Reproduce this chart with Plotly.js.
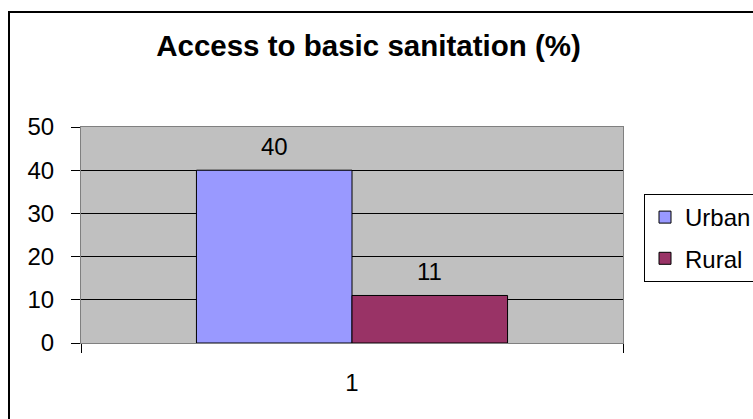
<!DOCTYPE html>
<html>
<head>
<meta charset="utf-8">
<script src="https://cdn.plot.ly/plotly-3.0.1.min.js"></script>
<style>
  html, body { margin: 0; padding: 0; background: #fff; }
  #wrap { position: relative; width: 753px; height: 419px; overflow: hidden; }
  #chart { position: absolute; left: 0; top: 0; width: 753px; height: 419px; }
  #frame { position: absolute; left: 8px; top: 11px; width: 800px; height: 500px;
           border-top: 2px solid #000; border-left: 2px solid #000; pointer-events: none; }
</style>
</head>
<body>
<div id="wrap">
  <div id="chart"></div>
  <div id="frame"></div>
</div>
<script>
const categories = ['1'];
const seriesNames = ['Urban', 'Rural'];
const urbanValues = [40];
const ruralValues = [11];
const seriesColors = ['#9999FF', '#993366'];
const yTickValues = [0, 10, 20, 30, 40, 50];

const bargap = 0.426;
const allValues = [urbanValues, ruralValues];
const FONT = 'Arial, "Liberation Sans", sans-serif';
const FS = 24;

const traces = allValues.map((vals, i) => ({
  type: 'bar',
  name: seriesNames[i],
  x: categories,
  y: vals,
  legendgroup: 'g' + i,
  marker: { color: seriesColors[i], line: { color: '#000', width: 1 } },
  hoverinfo: 'skip'
}));

// data labels above each bar
const nSeries = allValues.length;
const barW = (1 - bargap) / nSeries;
const annotations = [];
allValues.forEach((vals, i) => {
  vals.forEach((v, j) => {
    annotations.push({
      x: j - (1 - bargap) / 2 + barW * (i + 0.5),
      y: v, xref: 'x', yref: 'y',
      text: String(v), showarrow: false,
      yanchor: 'bottom', yshift: 8,
      font: { family: FONT, size: FS, color: '#000' }
    });
  });
});

const layout = {
  width: 753, height: 419,
  margin: { l: 81, r: 130, t: 127, b: 76, autoexpand: false },
  paper_bgcolor: 'rgba(0,0,0,0)',
  plot_bgcolor: '#C0C0C0',
  barmode: 'group',
  bargap: bargap,
  bargroupgap: 0,
  showlegend: true,
  font: { family: FONT, size: FS, color: '#000' },
  title: {
    text: '<b>Access to basic sanitation (%)</b>',
    font: { family: FONT, size: 29.5, color: '#000' },
    x: (368.5 - 81) / 542, xanchor: 'center', xref: 'paper',
    y: 1 - 46 / 419, yanchor: 'middle', yref: 'container'
  },
  xaxis: {
    type: 'category',
    range: [-0.5, 0.5],
    tickson: 'boundaries',
    ticks: 'outside', ticklen: 9, tickcolor: '#000', tickwidth: 1,
    showline: true, linecolor: '#808080', linewidth: 1, mirror: true,
    showgrid: false,
    tickfont: { family: FONT, size: FS, color: '#000' },
    ticklabelstandoff: 18,
    fixedrange: true
  },
  yaxis: {
    range: [0, 50],
    tickvals: yTickValues,
    ticktext: yTickValues.map(String),
    ticks: 'outside', ticklen: 9, tickcolor: '#000', tickwidth: 1,
    showline: true, linecolor: '#808080', linewidth: 1, mirror: true,
    showgrid: true, gridcolor: '#000', gridwidth: 1,
    zeroline: true, zerolinecolor: '#000', zerolinewidth: 1,
    tickfont: { family: FONT, size: FS, color: '#000' },
    ticklabelstandoff: 12,
    fixedrange: true
  },
  legend: {
    x: (644 - 81) / 542, xanchor: 'left', xref: 'paper',
    y: (343 - 194) / 216, yanchor: 'top', yref: 'paper',
    bgcolor: '#FFFFFF',
    bordercolor: '#000', borderwidth: 1,
    traceorder: 'grouped',
    tracegroupgap: 7,
    font: { family: FONT, size: FS, color: '#000' }
  },
  annotations: annotations
};

Plotly.newPlot('chart', traces, layout, { displayModeBar: false, staticPlot: true });
</script>
</body>
</html>
